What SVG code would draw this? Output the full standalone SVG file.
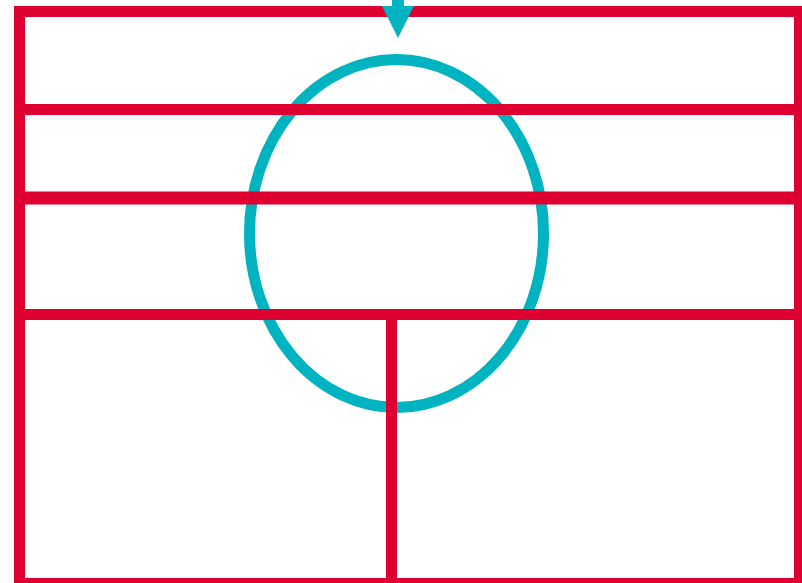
<svg xmlns="http://www.w3.org/2000/svg" width="802" height="583" viewBox="0 0 802 583">
  <style>
    .red { fill: none; stroke: #DD0031; stroke-width: 11; }
    .cyan { fill: none; stroke: #00B3C0; stroke-width: 11; }
  </style>
  <rect width="802" height="583" fill="#FFFFFF"/>
  <g id="ellipse-node">
    <ellipse class="cyan" cx="396.5" cy="233.5" rx="147" ry="174"/>
  </g>
  <g id="grid">
    <rect class="red" x="19.5" y="11.5" width="780" height="572"/>
    <line class="red" x1="19.5" y1="109.5" x2="802" y2="109.5"/>
    <line class="red" x1="19.5" y1="198" x2="802" y2="198" style="stroke-width:13"/>
    <line class="red" x1="19.5" y1="314.5" x2="802" y2="314.5"/>
    <line class="red" x1="391.5" y1="314.5" x2="391.5" y2="583"/>
  </g>
  <g id="connectors">
    <line x1="398" y1="0" x2="398" y2="10" stroke="#00B3C0" stroke-width="12"/>
    <polygon points="382,6 414,6 398,38" fill="#00B3C0"/>
  </g>
</svg>
